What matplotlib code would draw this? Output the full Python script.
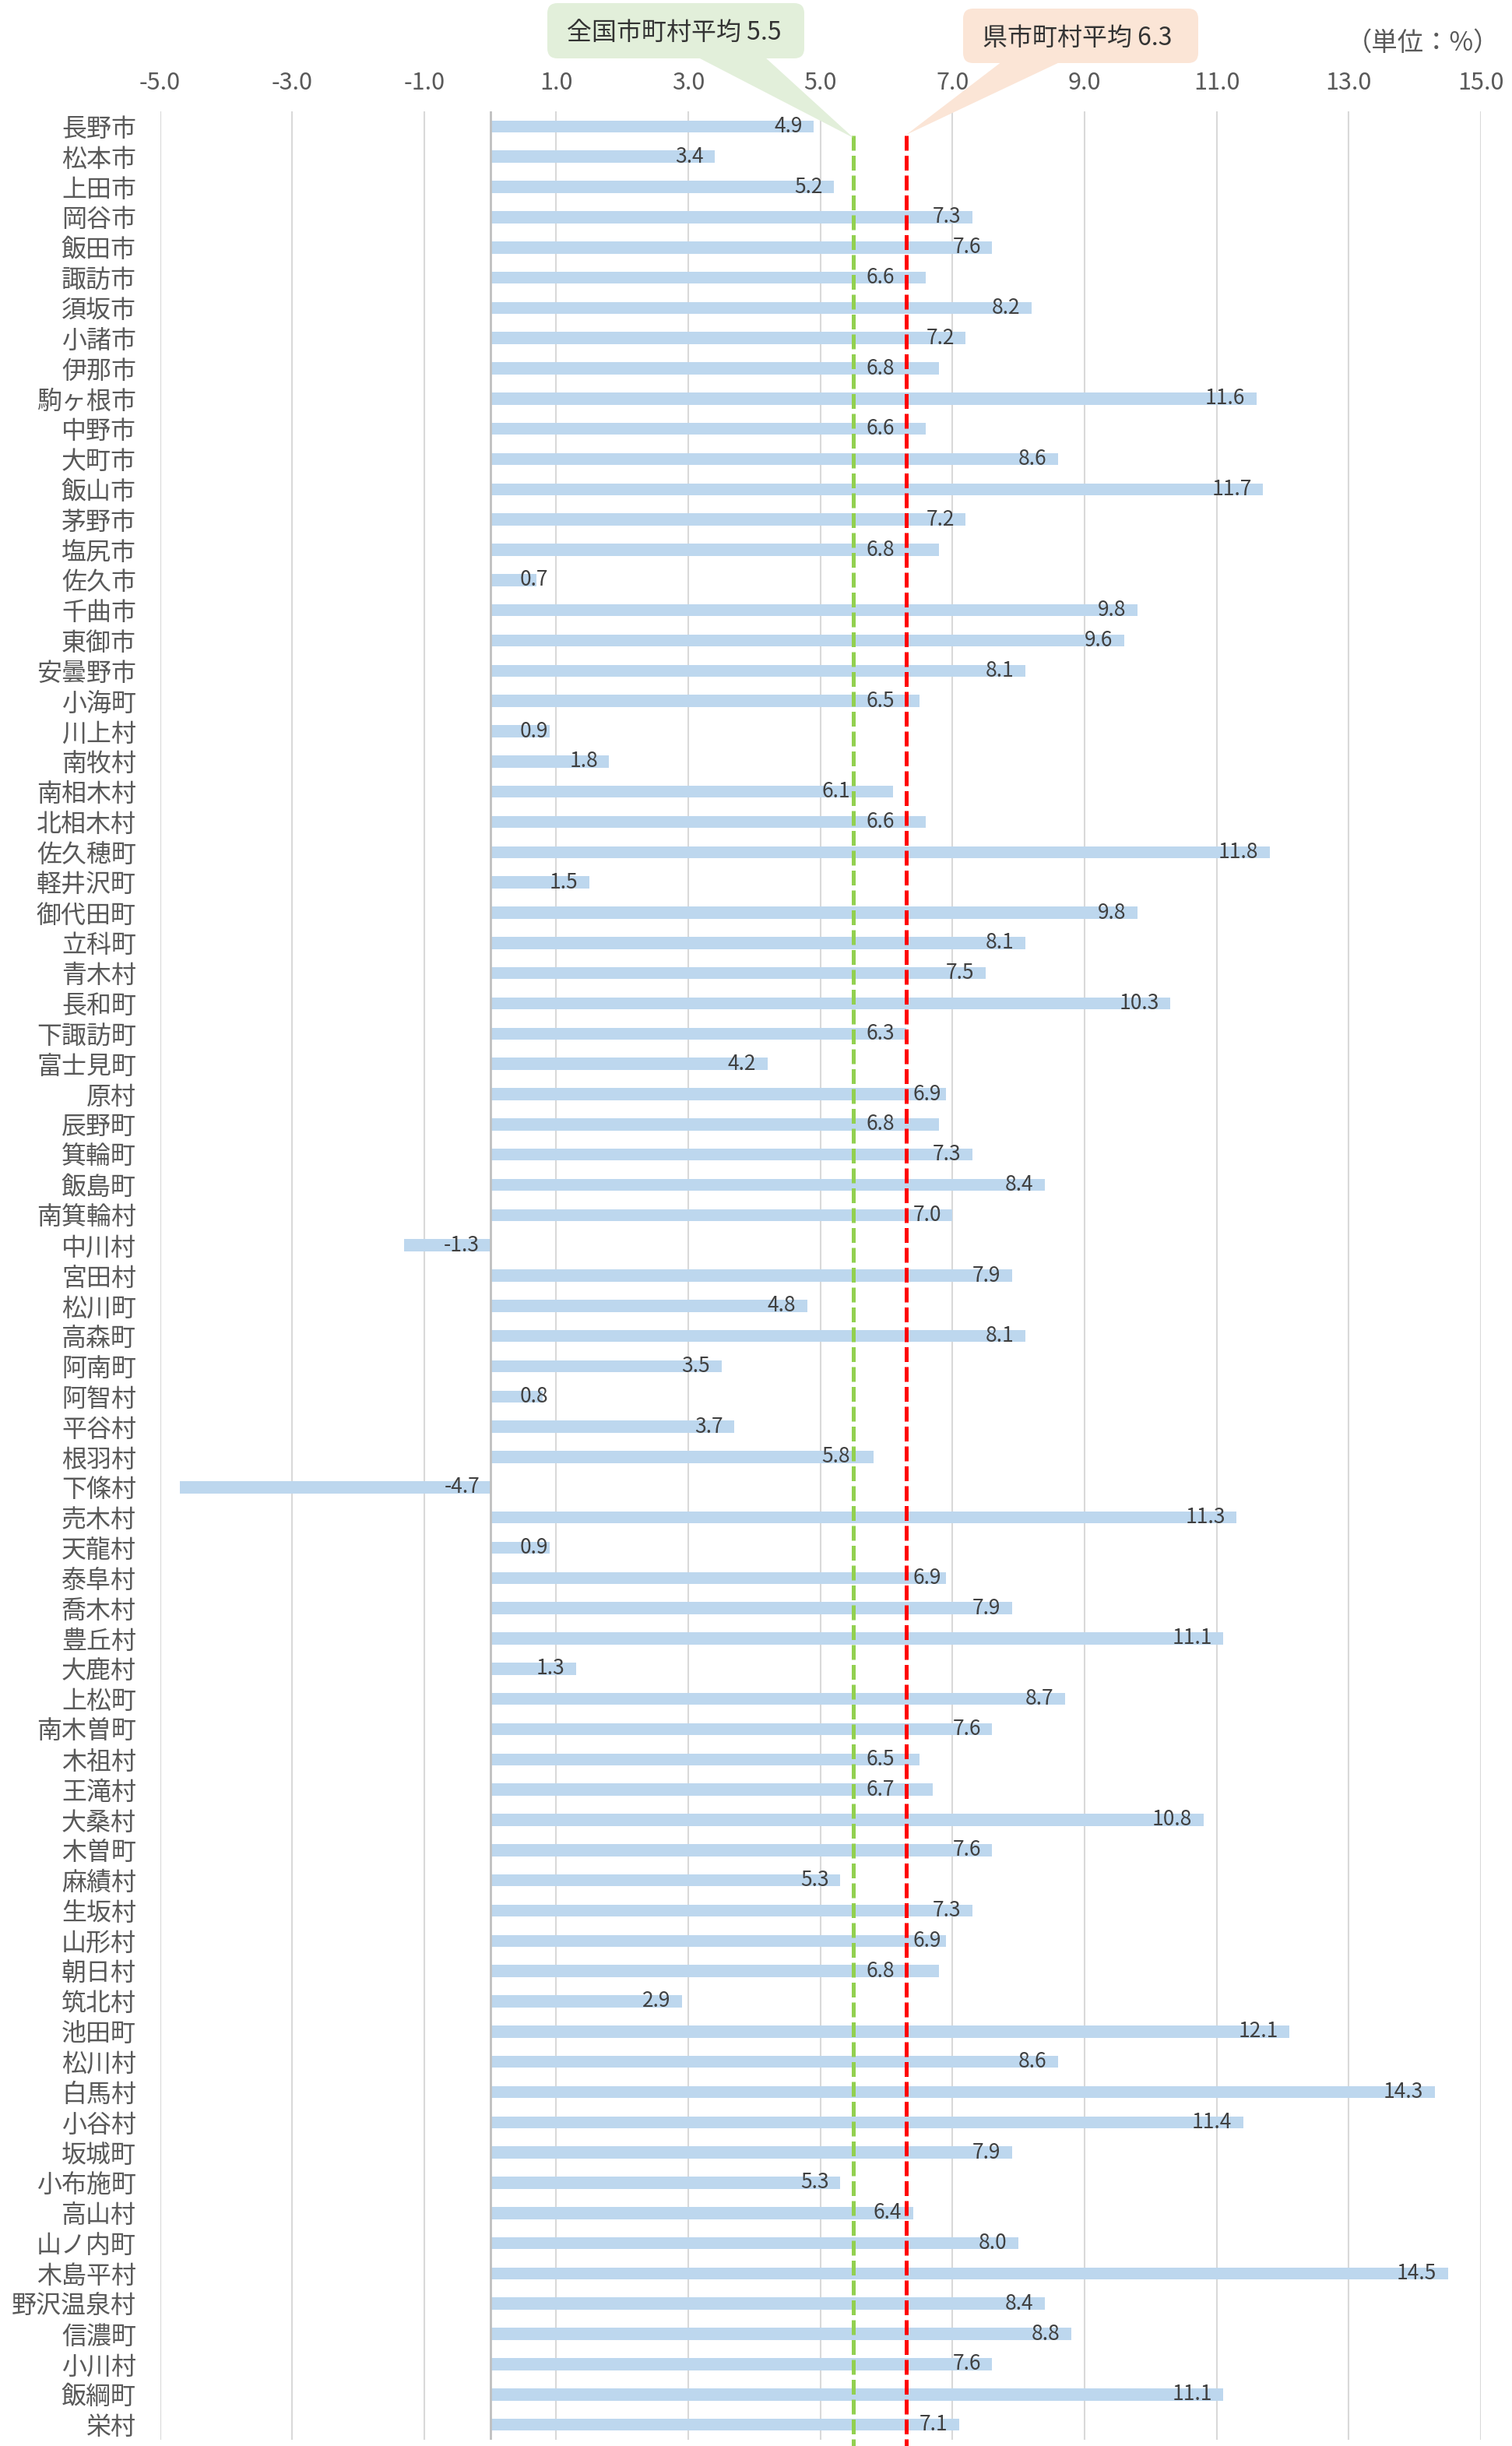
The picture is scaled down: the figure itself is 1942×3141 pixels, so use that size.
import matplotlib

matplotlib.use("Agg")
import matplotlib.pyplot as plt
from matplotlib.patches import FancyBboxPatch, Polygon
from matplotlib.transforms import Affine2D, blended_transform_factory

plt.rcParams["font.family"] = ["Noto Sans CJK JP", "DejaVu Sans"]

names = [
    "長野市", "松本市", "上田市", "岡谷市", "飯田市", "諏訪市", "須坂市", "小諸市",
    "伊那市", "駒ヶ根市", "中野市", "大町市", "飯山市", "茅野市", "塩尻市", "佐久市",
    "千曲市", "東御市", "安曇野市", "小海町", "川上村", "南牧村", "南相木村", "北相木村",
    "佐久穂町", "軽井沢町", "御代田町", "立科町", "青木村", "長和町", "下諏訪町", "富士見町",
    "原村", "辰野町", "箕輪町", "飯島町", "南箕輪村", "中川村", "宮田村", "松川町",
    "高森町", "阿南町", "阿智村", "平谷村", "根羽村", "下條村", "売木村", "天龍村",
    "泰阜村", "喬木村", "豊丘村", "大鹿村", "上松町", "南木曽町", "木祖村", "王滝村",
    "大桑村", "木曽町", "麻績村", "生坂村", "山形村", "朝日村", "筑北村", "池田町",
    "松川村", "白馬村", "小谷村", "坂城町", "小布施町", "高山村", "山ノ内町", "木島平村",
    "野沢温泉村", "信濃町", "小川村", "飯綱町", "栄村",
]
values = [
    4.9, 3.4, 5.2, 7.3, 7.6, 6.6, 8.2, 7.2,
    6.8, 11.6, 6.6, 8.6, 11.7, 7.2, 6.8, 0.7,
    9.8, 9.6, 8.1, 6.5, 0.9, 1.8, 6.1, 6.6,
    11.8, 1.5, 9.8, 8.1, 7.5, 10.3, 6.3, 4.2,
    6.9, 6.8, 7.3, 8.4, 7.0, -1.3, 7.9, 4.8,
    8.1, 3.5, 0.8, 3.7, 5.8, -4.7, 11.3, 0.9,
    6.9, 7.9, 11.1, 1.3, 8.7, 7.6, 6.5, 6.7,
    10.8, 7.6, 5.3, 7.3, 6.9, 6.8, 2.9, 12.1,
    8.6, 14.3, 11.4, 7.9, 5.3, 6.4, 8.0, 14.5,
    8.4, 8.8, 7.6, 11.1, 7.1,
]
national_avg = 5.5
pref_avg = 6.3
xticks = [-5.0, -3.0, -1.0, 1.0, 3.0, 5.0, 7.0, 9.0, 11.0, 13.0, 15.0]

W, H = 1942, 3141
LW = 0.44  # approx label width in data units


def label_pos(v):
    # mimic the hand-placed labels that dodge the two average lines
    if v < 0:
        return -0.16, "right"
    right = max(v - 0.17, 0.88)
    left = right - LW
    if left < pref_avg + 0.08 and right > pref_avg - 0.05:
        if v >= 6.85:
            return pref_avg + 0.1, "left"
        right = pref_avg - 0.18
        left = right - LW
    if left < national_avg + 0.08 and right > national_avg - 0.05:
        right = national_avg - 0.05
    return right, "right"


fig = plt.figure(figsize=(W / 100, H / 100), dpi=100)
ax = fig.add_axes([205.5 / W, (H - 3133) / H, (1902 - 205.5) / W, (3133 - 143) / H])

ypos = list(range(len(names)))
ax.barh(ypos, values, height=0.40, color="#BDD7EE", zorder=2)
ax.set_xlim(-5, 15)
ax.set_ylim(len(names) - 0.5, -0.5)

for t in xticks:
    ax.axvline(t, color="#D9D9D9", lw=1.5, zorder=1)
ax.axvline(0, color="#BFBFBF", lw=2, zorder=3)

ax.xaxis.tick_top()
ax.set_xticks(xticks)
ax.set_xticklabels([f"{t:.1f}" for t in xticks])
ax.tick_params(axis="x", length=0, pad=15, labelsize=22, labelcolor="#595959")
ax.set_yticks(ypos)
ax.set_yticklabels(names)
ax.tick_params(axis="y", length=0, pad=22, labelsize=23, labelcolor="#595959")
for s in ax.spines.values():
    s.set_visible(False)

for y, v in zip(ypos, values):
    x, ha = label_pos(v)
    ax.text(x, y, f"{v:.1f}", ha=ha, va="center", fontsize=19, color="#404040", zorder=5)

# average lines
blend = blended_transform_factory(ax.transData, ax.transAxes)
for v, c in [(national_avg, "#92D050"), (pref_avg, "#FF0000")]:
    ax.plot([v, v], [0.9896, -0.004], transform=blend, clip_on=False, color=c,
            lw=3.6, dashes=(3.8, 1.3), dash_capstyle="butt", zorder=4)

# callouts (pixel coords, y from top)
px = Affine2D().scale(1 / 100) + fig.dpi_scale_trans


def callout(x0, y0, x1, y1, base0, base1, tip_v, tip_y, fc, text, tx, ty):
    box = FancyBboxPatch((x0, H - y1), x1 - x0, y1 - y0,
                         boxstyle="round,pad=0,rounding_size=13",
                         transform=px, fc=fc, ec="none")
    fig.add_artist(box)
    tip_x = ax.transData.transform((tip_v, 0))[0]
    tri = Polygon([(base0, H - y1 + 2), (base1, H - y1 + 2), (tip_x, H - tip_y)],
                  closed=True, transform=px, fc=fc, ec="none")
    fig.add_artist(tri)
    fig.text(tx, H - ty, text, transform=px, ha="center", va="center",
             fontsize=23, color="#333333")


callout(703, 4, 1033, 75, 895, 982, national_avg, 177, "#E2EFDA",
        f"全国市町村平均 {national_avg}", 866, 42)
callout(1237, 11, 1539, 81, 1287, 1363, pref_avg, 173, "#FBE5D6",
        f"県市町村平均 {pref_avg}", 1384, 49)

fig.text(1828, H - 55, "（単位：%）", transform=px, ha="center", va="center",
         fontsize=24, color="#595959")

fig.savefig("out.png", dpi=100)
plt.close(fig)
